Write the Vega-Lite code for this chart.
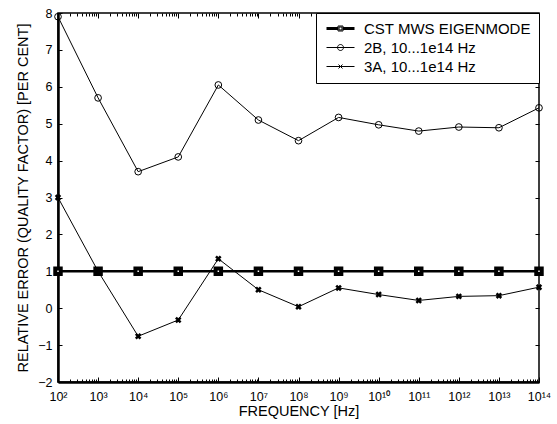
{
  "$schema": "https://vega.github.io/schema/vega-lite/v6.json",
  "width": 481,
  "height": 369,
  "autosize": {"type": "none"},
  "padding": {"left": 58, "top": 13, "right": 18, "bottom": 42},
  "background": "white",
  "config": {
    "view": {"stroke": "black", "strokeWidth": 1.5},
    "axis": {
      "grid": false,
      "labelFont": "Liberation Sans",
      "titleFont": "Liberation Sans",
      "labelColor": "black",
      "titleColor": "black",
      "tickColor": "black",
      "domainColor": "black",
      "titleFontWeight": "normal",
      "labelFontSize": 12.5,
      "titleFontSize": 14.5,
      "labelFlush": false,
      "labelOverlap": false
    }
  },
  "data": {
    "values": [
      {"series": "CST MWS EIGENMODE", "freq": 1e2, "value": 1},
      {"series": "CST MWS EIGENMODE", "freq": 1e3, "value": 1},
      {"series": "CST MWS EIGENMODE", "freq": 1e4, "value": 1},
      {"series": "CST MWS EIGENMODE", "freq": 1e5, "value": 1},
      {"series": "CST MWS EIGENMODE", "freq": 1e6, "value": 1},
      {"series": "CST MWS EIGENMODE", "freq": 1e7, "value": 1},
      {"series": "CST MWS EIGENMODE", "freq": 1e8, "value": 1},
      {"series": "CST MWS EIGENMODE", "freq": 1e9, "value": 1},
      {"series": "CST MWS EIGENMODE", "freq": 1e10, "value": 1},
      {"series": "CST MWS EIGENMODE", "freq": 1e11, "value": 1},
      {"series": "CST MWS EIGENMODE", "freq": 1e12, "value": 1},
      {"series": "CST MWS EIGENMODE", "freq": 1e13, "value": 1},
      {"series": "CST MWS EIGENMODE", "freq": 1e14, "value": 1},
      {"series": "2B, 10...1e14 Hz", "freq": 1e2, "value": 7.9},
      {"series": "2B, 10...1e14 Hz", "freq": 1e3, "value": 5.7},
      {"series": "2B, 10...1e14 Hz", "freq": 1e4, "value": 3.7},
      {"series": "2B, 10...1e14 Hz", "freq": 1e5, "value": 4.1},
      {"series": "2B, 10...1e14 Hz", "freq": 1e6, "value": 6.05},
      {"series": "2B, 10...1e14 Hz", "freq": 1e7, "value": 5.1},
      {"series": "2B, 10...1e14 Hz", "freq": 1e8, "value": 4.54},
      {"series": "2B, 10...1e14 Hz", "freq": 1e9, "value": 5.17},
      {"series": "2B, 10...1e14 Hz", "freq": 1e10, "value": 4.97},
      {"series": "2B, 10...1e14 Hz", "freq": 1e11, "value": 4.8},
      {"series": "2B, 10...1e14 Hz", "freq": 1e12, "value": 4.91},
      {"series": "2B, 10...1e14 Hz", "freq": 1e13, "value": 4.89},
      {"series": "2B, 10...1e14 Hz", "freq": 1e14, "value": 5.43},
      {"series": "3A, 10...1e14 Hz", "freq": 1e2, "value": 3.0},
      {"series": "3A, 10...1e14 Hz", "freq": 1e3, "value": 1.0},
      {"series": "3A, 10...1e14 Hz", "freq": 1e4, "value": -0.76},
      {"series": "3A, 10...1e14 Hz", "freq": 1e5, "value": -0.32},
      {"series": "3A, 10...1e14 Hz", "freq": 1e6, "value": 1.34},
      {"series": "3A, 10...1e14 Hz", "freq": 1e7, "value": 0.5},
      {"series": "3A, 10...1e14 Hz", "freq": 1e8, "value": 0.04},
      {"series": "3A, 10...1e14 Hz", "freq": 1e9, "value": 0.55},
      {"series": "3A, 10...1e14 Hz", "freq": 1e10, "value": 0.37},
      {"series": "3A, 10...1e14 Hz", "freq": 1e11, "value": 0.21},
      {"series": "3A, 10...1e14 Hz", "freq": 1e12, "value": 0.32},
      {"series": "3A, 10...1e14 Hz", "freq": 1e13, "value": 0.34},
      {"series": "3A, 10...1e14 Hz", "freq": 1e14, "value": 0.57}
    ]
  },
  "layer": [
    {
      "mark": {"type": "line", "color": "black"},
      "encoding": {
        "x": {
          "field": "freq", "type": "quantitative",
          "scale": {"type": "log", "domain": [100, 1e14], "nice": false},
          "axis": {
            "orient": "bottom",
            "values": [1e2, 1e3, 1e4, 1e5, 1e6, 1e7, 1e8, 1e9, 1e10, 1e11, 1e12, 1e13, 1e14],
            "labelExpr": "'10' + (round(log(datum.value)/LN10) >= 10 ? '¹' + substring('⁰¹²³⁴⁵⁶⁷⁸⁹', round(log(datum.value)/LN10) - 10, round(log(datum.value)/LN10) - 9) : substring('⁰¹²³⁴⁵⁶⁷⁸⁹', round(log(datum.value)/LN10), round(log(datum.value)/LN10) + 1))",
            "tickSize": -5,
            "labelPadding": 13,
            "domainWidth": 2.5,
            "title": "FREQUENCY [Hz]",
            "titlePadding": 2
          }
        },
        "y": {
          "field": "value", "type": "quantitative",
          "scale": {"domain": [-2, 8], "nice": false, "zero": false},
          "axis": {
            "orient": "left",
            "values": [-2, -1, 0, 1, 2, 3, 4, 5, 6, 7, 8],
            "tickSize": -4,
            "labelPadding": 10,
            "domainWidth": 2.5,
            "title": "RELATIVE ERROR (QUALITY FACTOR) [PER CENT]",
            "titlePadding": 7
          }
        },
        "strokeWidth": {
          "field": "series", "type": "nominal",
          "scale": {"type": "ordinal", "domain": ["2B, 10...1e14 Hz", "3A, 10...1e14 Hz", "CST MWS EIGENMODE"], "range": [1, 1, 2.5]},
          "legend": null
        }
      }
    },
    {
      "mark": {"type": "point", "filled": true, "stroke": "black", "opacity": 1},
      "encoding": {
        "x": {
          "field": "freq", "type": "quantitative",
          "axis": {
            "orient": "top",
            "values": [1e2, 1e3, 1e4, 1e5, 1e6, 1e7, 1e8, 1e9, 1e10, 1e11, 1e12, 1e13, 1e14],
            "labels": false, "tickSize": -5, "domain": false, "title": null
          }
        },
        "y": {
          "field": "value", "type": "quantitative",
          "axis": {
            "orient": "right",
            "values": [-2, -1, 0, 1, 2, 3, 4, 5, 6, 7, 8],
            "labels": false, "tickSize": -4, "domain": false, "title": null
          }
        },
        "shape": {
          "field": "series", "type": "nominal",
          "scale": {"domain": ["2B, 10...1e14 Hz", "3A, 10...1e14 Hz", "CST MWS EIGENMODE"], "range": ["circle", "M-1,-1L1,1M-1,1L1,-1", "square"]},
          "legend": null
        },
        "fill": {
          "field": "series", "type": "nominal",
          "scale": {"domain": ["2B, 10...1e14 Hz", "3A, 10...1e14 Hz", "CST MWS EIGENMODE"], "range": ["transparent", "transparent", "white"]},
          "legend": null
        },
        "size": {
          "field": "series", "type": "nominal",
          "scale": {"type": "ordinal", "domain": ["2B, 10...1e14 Hz", "3A, 10...1e14 Hz", "CST MWS EIGENMODE"], "range": [45, 22, 30]},
          "legend": null
        },
        "strokeWidth": {
          "field": "series", "type": "nominal",
          "legend": null
        }
      }
    },
    {
      "transform": [{"filter": "false"}],
      "mark": {"type": "point", "filled": false, "stroke": "black", "strokeWidth": 1, "opacity": 1},
      "encoding": {
        "x": {"field": "freq", "type": "quantitative", "axis": null},
        "y": {"field": "value", "type": "quantitative", "axis": null},
        "shape": {
          "field": "series", "type": "nominal",
          "scale": {
            "domain": ["CST MWS EIGENMODE", "2B, 10...1e14 Hz", "3A, 10...1e14 Hz"],
            "range": [
              "M-1,-0.2H1.3M-1,0H1.3M-1,0.2H1.3M2.3,-0.2H4.6M2.3,0H4.6M2.3,0.2H4.6M1.3,-0.5H2.3V0.5H1.3ZM1.5,-0.3H2.1V0.3H1.5Z",
              "M-1,0H4.6M2.4,0A0.6,0.6 0 1 1 1.2,0A0.6,0.6 0 1 1 2.4,0",
              "M-1,0H4.6M1.4,-0.4L2.2,0.4M1.4,0.4L2.2,-0.4"
            ]
          },
          "legend": {
            "orient": "top-right",
            "offset": 0,
            "title": null,
            "padding": 8,
            "strokeColor": "black",
            "fillColor": "white",
            "labelFont": "Liberation Sans",
            "labelFontSize": 15,
            "labelColor": "black",
            "labelOffset": 25,
            "labelLimit": 400,
            "rowPadding": 3,
            "symbolSize": 100,
            "symbolStrokeColor": "black",
            "symbolStrokeWidth": 1,
            "symbolOpacity": 1
          }
        }
      }
    },
    {
      "mark": {"type": "point", "opacity": 0},
      "encoding": {
        "x": {
          "field": "freq", "type": "quantitative",
          "axis": {
            "orient": "bottom",
            "values": [2e2,3e2,4e2,5e2,6e2,7e2,8e2,9e2,2e3,3e3,4e3,5e3,6e3,7e3,8e3,9e3,2e4,3e4,4e4,5e4,6e4,7e4,8e4,9e4,2e5,3e5,4e5,5e5,6e5,7e5,8e5,9e5,2e6,3e6,4e6,5e6,6e6,7e6,8e6,9e6,2e7,3e7,4e7,5e7,6e7,7e7,8e7,9e7,2e8,3e8,4e8,5e8,6e8,7e8,8e8,9e8,2e9,3e9,4e9,5e9,6e9,7e9,8e9,9e9,2e10,3e10,4e10,5e10,6e10,7e10,8e10,9e10,2e11,3e11,4e11,5e11,6e11,7e11,8e11,9e11,2e12,3e12,4e12,5e12,6e12,7e12,8e12,9e12,2e13,3e13,4e13,5e13,6e13,7e13,8e13,9e13],
            "labels": false, "tickSize": -3, "domain": false, "title": null
          }
        },
        "y": {"field": "value", "type": "quantitative", "axis": null}
      }
    },
    {
      "mark": {"type": "point", "opacity": 0},
      "encoding": {
        "x": {
          "field": "freq", "type": "quantitative",
          "axis": {
            "orient": "top",
            "values": [2e2,3e2,4e2,5e2,6e2,7e2,8e2,9e2,2e3,3e3,4e3,5e3,6e3,7e3,8e3,9e3,2e4,3e4,4e4,5e4,6e4,7e4,8e4,9e4,2e5,3e5,4e5,5e5,6e5,7e5,8e5,9e5,2e6,3e6,4e6,5e6,6e6,7e6,8e6,9e6,2e7,3e7,4e7,5e7,6e7,7e7,8e7,9e7,2e8,3e8,4e8,5e8,6e8,7e8,8e8,9e8,2e9,3e9,4e9,5e9,6e9,7e9,8e9,9e9,2e10,3e10,4e10,5e10,6e10,7e10,8e10,9e10,2e11,3e11,4e11,5e11,6e11,7e11,8e11,9e11,2e12,3e12,4e12,5e12,6e12,7e12,8e12,9e12,2e13,3e13,4e13,5e13,6e13,7e13,8e13,9e13],
            "labels": false, "tickSize": -3, "domain": false, "title": null
          }
        },
        "y": {"field": "value", "type": "quantitative", "axis": null}
      }
    }
  ],
  "resolve": {
    "scale": {"shape": "independent"},
    "axis": {"x": "independent", "y": "independent"}
  }
}
